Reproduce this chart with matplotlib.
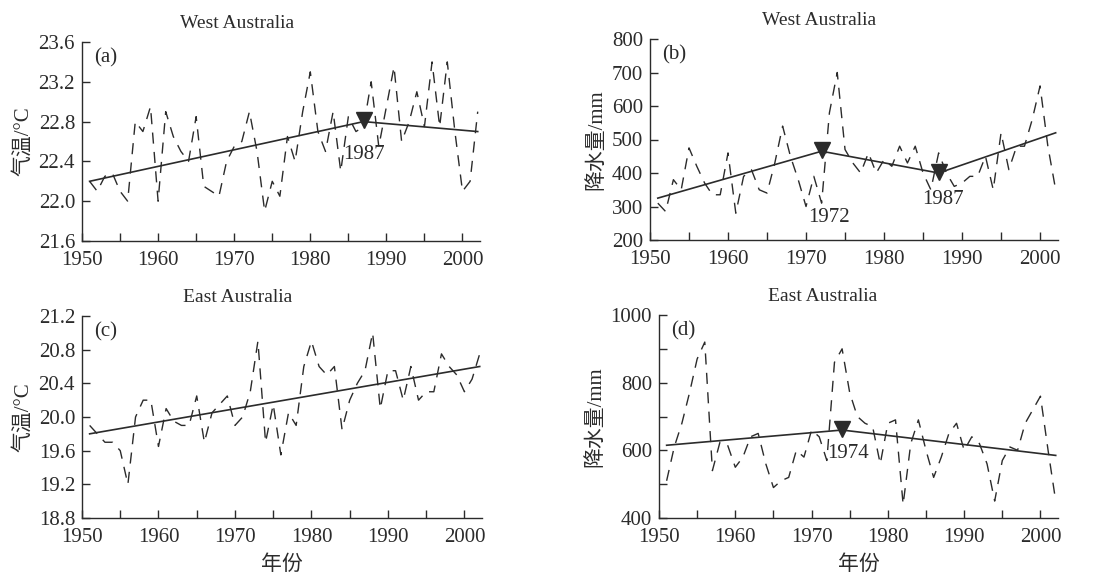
import matplotlib.pyplot as plt
from matplotlib.ticker import MultipleLocator

plt.rcParams['font.family'] = ['Liberation Serif', 'Noto Sans CJK SC']
plt.rcParams['axes.unicode_minus'] = False

years = list(range(1951, 2003))

# annual series
temp_west = [22.20, 22.10, 22.25, 22.28, 22.10, 22.00, 22.80, 22.70, 22.95, 22.00,
             22.90, 22.65, 22.50, 22.40, 22.85, 22.15, 22.10, 22.05, 22.40, 22.55,
             22.60, 22.90, 22.50, 21.90, 22.20, 22.05, 22.65, 22.40, 22.90, 23.30,
             22.70, 22.50, 22.90, 22.30, 22.85, 22.70, 22.75, 23.20, 22.55, 22.95,
             23.35, 22.60, 22.80, 23.10, 22.75, 23.40, 22.75, 23.40, 22.70, 22.10,
             22.20, 22.90]
rain_west = [310, 285, 380, 350, 475, 420, 370, 335, 335, 460,
             280, 390, 410, 350, 340, 430, 540, 450, 380, 300,
             390, 310, 580, 700, 470, 430, 400, 460, 400, 440,
             420, 480, 430, 480, 400, 350, 460, 400, 360, 370,
             390, 390, 450, 350, 520, 410, 480, 480, 560, 660,
             480, 350]
temp_east = [19.90, 19.80, 19.70, 19.70, 19.60, 19.20, 20.00, 20.20, 20.20, 19.65,
             20.10, 19.95, 19.90, 19.90, 20.25, 19.70, 20.05, 20.15, 20.25, 19.90,
             20.00, 20.30, 20.90, 19.70, 20.15, 19.55, 20.05, 19.90, 20.60, 20.90,
             20.60, 20.50, 20.60, 19.85, 20.20, 20.40, 20.55, 21.00, 20.10, 20.55,
             20.55, 20.20, 20.60, 20.20, 20.30, 20.30, 20.75, 20.60, 20.50, 20.30,
             20.45, 20.75]
rain_east = [510, 610, 680, 770, 870, 920, 540, 625, 615, 550,
             580, 640, 650, 560, 490, 510, 520, 600, 580, 660,
             640, 570, 860, 900, 770, 700, 680, 670, 560, 680,
             690, 440, 620, 690, 600, 520, 580, 650, 680, 600,
             640, 620, 560, 450, 570, 610, 600, 680, 720, 760,
             600, 450]

# piecewise trend lines (breakpoints)
trend_a_x, trend_a_y = [1951, 1987, 2002], [22.2, 22.8, 22.7]
trend_b_x, trend_b_y = [1951, 1972, 1987, 2002], [325, 465, 400, 520]
trend_c_x, trend_c_y = [1951, 2002], [19.8, 20.6]
trend_d_x, trend_d_y = [1951, 1974, 2002], [615, 660, 585]

ink = '#2b2b2b'
fs = 15
fig = plt.figure(figsize=(11.06, 5.73), dpi=100)


def px_axes(left, right, top, bottom):
    W, H = 1106, 573
    return fig.add_axes([left / W, 1 - bottom / H, (right - left) / W, (bottom - top) / H])


def style(ax, ylim, ymajor, yminor, title, tx, tag):
    ax.set_xlim(1950, 2002.3)
    ax.set_ylim(*ylim)
    ax.xaxis.set_major_locator(MultipleLocator(10))
    ax.xaxis.set_minor_locator(MultipleLocator(5))
    ax.yaxis.set_major_locator(MultipleLocator(ymajor))
    if yminor:
        ax.yaxis.set_minor_locator(MultipleLocator(yminor))
    for s in ['top', 'right']:
        ax.spines[s].set_visible(False)
    for s in ['left', 'bottom']:
        ax.spines[s].set_color(ink)
        ax.spines[s].set_linewidth(1.0)
    ax.tick_params(which='both', direction='in', length=6, width=1, colors=ink,
                   labelsize=fs)
    ax.tick_params(axis='x', pad=7)
    ax.tick_params(axis='y', pad=5)
    ax.set_title(title, x=tx, fontsize=14, color=ink, pad=10)
    ax.text(0.03, 0.97, tag, transform=ax.transAxes, fontsize=fs, color=ink,
            va='top', ha='left')


def draw(ax, series, tx, ty):
    ax.plot(years, series, color=ink, lw=1.0, linestyle=(0, (8, 6)))
    ax.plot(tx, ty, color=ink, lw=1.2)


ax_a = px_axes(82, 480, 42, 241)
draw(ax_a, temp_west, trend_a_x, trend_a_y)
style(ax_a, (21.6, 23.6), 0.4, None, 'West Australia', 0.39, '(a)')
ax_a.yaxis.set_major_formatter(lambda v, p: f'{v:.1f}')
ax_a.set_ylabel('气温/°C', fontsize=fs, color=ink, labelpad=4)
ax_a.plot(1987, 22.82, marker='v', ms=12, color=ink, linestyle='none')
ax_a.text(1987, 22.47, '1987', ha='center', va='center', fontsize=fs, color=ink)

ax_b = px_axes(650, 1058, 39, 240)
draw(ax_b, rain_west, trend_b_x, trend_b_y)
style(ax_b, (200, 800), 100, None, 'West Australia', 0.415, '(b)')
ax_b.set_ylabel('降水量/mm', fontsize=fs, color=ink, labelpad=4)
ax_b.plot([1972, 1987], [468, 403], marker='v', ms=12, color=ink, linestyle='none')
ax_b.text(1973, 266, '1972', ha='center', va='center', fontsize=fs, color=ink)
ax_b.text(1987.5, 320, '1987', ha='center', va='center', fontsize=fs, color=ink)

ax_c = px_axes(82, 482, 316, 518)
draw(ax_c, temp_east, trend_c_x, trend_c_y)
style(ax_c, (18.8, 21.2), 0.4, None, 'East Australia', 0.39, '(c)')
ax_c.yaxis.set_major_formatter(lambda v, p: f'{v:.1f}')
ax_c.set_ylabel('气温/°C', fontsize=fs, color=ink, labelpad=4)
ax_c.set_xlabel('年份', fontsize=fs, color=ink, labelpad=6)

ax_d = px_axes(659, 1058, 315, 518)
draw(ax_d, rain_east, trend_d_x, trend_d_y)
style(ax_d, (400, 1000), 200, 100, 'East Australia', 0.41, '(d)')
ax_d.set_ylabel('降水量/mm', fontsize=fs, color=ink, labelpad=4)
ax_d.set_xlabel('年份', fontsize=fs, color=ink, labelpad=6)
ax_d.plot(1974, 663, marker='v', ms=12, color=ink, linestyle='none')
ax_d.text(1974.8, 592, '1974', ha='center', va='center', fontsize=fs, color=ink)

fig.savefig('out.png', dpi=100)
